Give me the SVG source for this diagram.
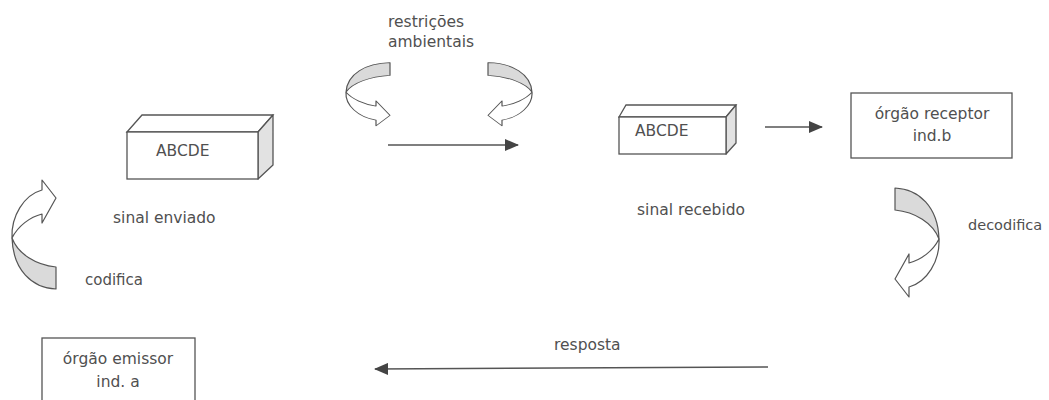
<svg xmlns="http://www.w3.org/2000/svg" width="1049" height="400" viewBox="0 0 1049 400">
<style>
text{font-family:"DejaVu Sans","Liberation Sans",sans-serif;font-size:15.5px;fill:#505050}
.box{fill:#fff;stroke:#555;stroke-width:1.3}
.side{fill:#e2e2e2;stroke:#555;stroke-width:1.3;stroke-linejoin:round}
.ln{stroke:#555;stroke-width:1.6;fill:none}
.cw{fill:#fff;stroke:#555;stroke-width:1.2;stroke-linejoin:round}
.cg{fill:#dadada;stroke:#555;stroke-width:1.2;stroke-linejoin:round}
</style>
<defs>
<marker id="ah" markerUnits="userSpaceOnUse" markerWidth="14" markerHeight="12" refX="13" refY="6" orient="auto">
<path d="M0,0 L14,6 L0,12 Z" fill="#444"/>
</marker>
<g id="curl">
<path class="cg" d="M2,60 C8,76 26,87 46,89 L46,111 C22,110 3,92 2,60 Z"/>
<path class="cw" d="M32,12 L32,2 L46,20 L32,45 L32,36 C20,39 8,48 2,60 C1,38 14,17 32,12 Z"/>
</g>
</defs>
<rect width="1049" height="400" fill="#fff"/>

<g id="connectors">
<line class="ln" x1="388" y1="145" x2="518" y2="145" marker-end="url(#ah)"/>
<line class="ln" x1="765" y1="127" x2="822" y2="127" marker-end="url(#ah)"/>
<line class="ln" x1="768" y1="367" x2="375" y2="369" marker-end="url(#ah)"/>
<use href="#curl" transform="translate(10,178)"/>
<use href="#curl" transform="translate(344,127) scale(1,-0.58)"/>
<use href="#curl" transform="translate(534,127) scale(-1,-0.58)"/>
<use href="#curl" transform="translate(941,299) rotate(180)"/>
</g>

<g id="sinal-enviado">
<path class="box" d="M127,132 L142,115 L273,115 L258,132 Z"/>
<path class="side" d="M258,132 L273,115 L273,165 L258,179 Z"/>
<rect class="box" x="127" y="132" width="131" height="47"/>
<text x="156" y="156">ABCDE</text>
<text x="113" y="223">sinal enviado</text>
</g>

<g id="sinal-recebido">
<path class="box" d="M619,117 L626,105 L736,105 L726,117 Z"/>
<path class="side" d="M726,117 L736,105 L736,143 L726,154 Z"/>
<rect class="box" x="619" y="117" width="107" height="37"/>
<text x="635" y="136">ABCDE</text>
<text x="637" y="215">sinal recebido</text>
</g>

<g id="orgao-receptor">
<rect class="box" x="851" y="93" width="161" height="65"/>
<text x="932" y="119" text-anchor="middle">órgão receptor</text>
<text x="932" y="141" text-anchor="middle">ind.b</text>
</g>

<g id="orgao-emissor">
<rect class="box" x="42" y="338" width="153" height="80"/>
<text x="118" y="364" text-anchor="middle">órgão emissor</text>
<text x="118" y="387" text-anchor="middle">ind. a</text>
</g>

<g id="labels">
<text x="388" y="27">restrições</text>
<text x="388" y="47">ambientais</text>
<text x="85" y="285" style="font-size:15px">codifica</text>
<text x="968" y="230" style="font-size:14.5px">decodifica</text>
<text x="554" y="350">resposta</text>
</g>
</svg>
